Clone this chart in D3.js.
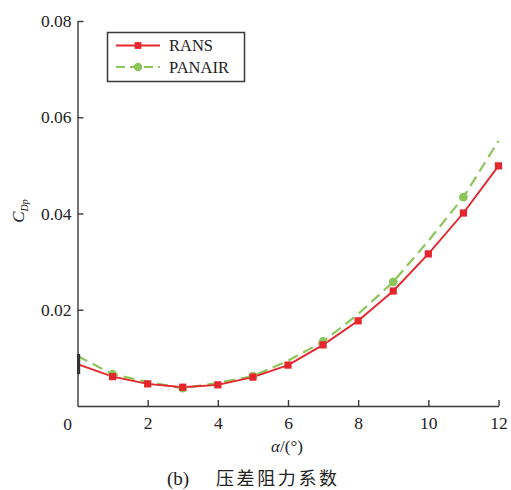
<!DOCTYPE html>
<html>
<head>
<meta charset="utf-8">
<script src="https://cdn.jsdelivr.net/npm/d3@7"></script>
<style>
  html, body { margin: 0; padding: 0; background: #fff; }
  svg { display: block; }
</style>
</head>
<body>
<svg id="chart" width="511" height="490"></svg>
<script>
// Angle of attack (degrees)
const alpha = [0, 1, 2, 3, 4, 5, 6, 7, 8, 9, 10, 11, 12];
// Pressure drag coefficient, RANS solution
const rans = [0.0087, 0.0061, 0.0046, 0.0039, 0.0044, 0.0060, 0.0085, 0.0127, 0.0177, 0.0239, 0.0316, 0.0401, 0.0499];
// Pressure drag coefficient, PANAIR panel method
const panair = [0.0104, 0.0066, 0.0050, 0.0037, 0.0048, 0.0062, 0.0094, 0.0134, 0.0191, 0.0258, 0.0343, 0.0434, 0.0551];
// PANAIR points drawn with a marker
const panairMarked = [1, 3, 5, 7, 9, 11];
const xTicks = [2, 4, 6, 8, 10, 12];
const yTicks = [0.02, 0.04, 0.06, 0.08];
const seriesNames = ["RANS", "PANAIR"];

const RED = "#e5262d";
const GREEN = "#8cc65a";
const AXIS = "#3a3a3a";
const SERIF = "'Liberation Serif', 'DejaVu Serif', serif";

const svg = d3.select("#chart");

const x = d3.scaleLinear().domain([0, 12]).range([77.5, 498.5]);
const y = d3.scaleLinear().domain([0, 0.08]).range([406, 21]);

// Axes with inward ticks
const xAxis = d3.axisBottom(x).tickValues(xTicks).tickSize(-6).tickSizeOuter(0).tickPadding(11);
const yAxis = d3.axisLeft(y).tickValues(yTicks).tickSize(-6).tickSizeOuter(0).tickPadding(6)
  .tickFormat(d3.format(".2f"));

const gx = svg.append("g").attr("transform", `translate(0,${y(0)})`).call(xAxis);
const gy = svg.append("g").attr("transform", `translate(${x(0)},0)`).call(yAxis);
[gx, gy].forEach(g => {
  g.attr("font-family", SERIF).attr("font-size", 17.5);
  g.selectAll("path, line").attr("stroke", AXIS).attr("stroke-width", 1.4);
  g.selectAll("text").attr("fill", "#222").style("font-family", SERIF).style("font-size", "17.5px");
});

// Shared origin label
svg.append("text")
  .attr("x", x(0) - 10).attr("y", y(0) + 23.5)
  .attr("text-anchor", "middle")
  .style("font-family", SERIF).style("font-size", "17.5px").attr("fill", "#222")
  .text("0");

// Axis titles
svg.append("text")
  .attr("x", 287).attr("y", 452)
  .attr("text-anchor", "middle")
  .style("font-family", SERIF).style("font-size", "17px").attr("fill", "#222")
  .html("<tspan font-style='italic'>α</tspan>/(°)");

svg.append("text")
  .attr("transform", "translate(24,211) rotate(-90)")
  .attr("text-anchor", "middle")
  .style("font-family", SERIF).style("font-size", "17px").attr("fill", "#222")
  .html("<tspan font-style='italic'>C</tspan><tspan font-style='italic' font-size='10px' dy='4'>Dp</tspan>");

// Caption
const cap = svg.append("text")
  .attr("x", 167).attr("y", 485)
  .style("font-family", "'Noto Sans CJK SC', sans-serif").style("font-size", "18px").attr("fill", "#222");
cap.append("tspan").style("font-family", SERIF).style("font-size", "19px").text("(b)");
cap.append("tspan").attr("x", 216).attr("letter-spacing", "2.6px").text("压差阻力系数");

// Series lines
const line = d3.line().x((d, i) => x(alpha[i])).y(d => y(d));

svg.append("path").datum(panair)
  .attr("d", line).attr("fill", "none")
  .attr("stroke", GREEN).attr("stroke-width", 2.2).attr("stroke-dasharray", "11,6");

svg.append("path").datum(rans)
  .attr("d", line).attr("fill", "none")
  .attr("stroke", RED).attr("stroke-width", 1.9);

// Markers at the origin sit on the axis line
svg.append("rect")
  .attr("x", x(0) - 0.5).attr("width", 3.2)
  .attr("y", y(panair[0]) - 2).attr("height", y(rans[0]) - y(panair[0]) + 12)
  .attr("fill", "#333");

svg.append("g").selectAll("circle")
  .data(panairMarked)
  .join("circle")
  .attr("cx", d => x(alpha[d])).attr("cy", d => y(panair[d]))
  .attr("r", 4.4).attr("fill", GREEN);

svg.append("g").selectAll("rect")
  .data(alpha.slice(1))
  .join("rect")
  .attr("x", d => x(d) - 3.6).attr("y", d => y(rans[d]) - 3.6)
  .attr("width", 7.2).attr("height", 7.2).attr("fill", RED);

// Legend
const lg = svg.append("g");
lg.append("rect")
  .attr("x", 107.5).attr("y", 32.5).attr("width", 137).attr("height", 49)
  .attr("fill", "#fff").attr("stroke", AXIS).attr("stroke-width", 1.5);

const legendRows = [
  { name: seriesNames[0], color: RED, dash: null, y: 45.5, marker: "square" },
  { name: seriesNames[1], color: GREEN, dash: "9,5", y: 67, marker: "circle" }
];
legendRows.forEach(r => {
  lg.append("line")
    .attr("x1", 116).attr("x2", 160).attr("y1", r.y).attr("y2", r.y)
    .attr("stroke", r.color).attr("stroke-width", 2)
    .attr("stroke-dasharray", r.dash);
  if (r.marker === "square") {
    lg.append("rect").attr("x", 138 - 3.4).attr("y", r.y - 3.4)
      .attr("width", 6.8).attr("height", 6.8).attr("fill", r.color);
  } else {
    lg.append("circle").attr("cx", 138).attr("cy", r.y).attr("r", 4.2).attr("fill", r.color);
  }
  lg.append("text")
    .attr("x", 169).attr("y", r.y + 5.6)
    .style("font-family", SERIF).style("font-size", "16.5px").attr("fill", "#222")
    .text(r.name);
});
</script>
</body>
</html>
